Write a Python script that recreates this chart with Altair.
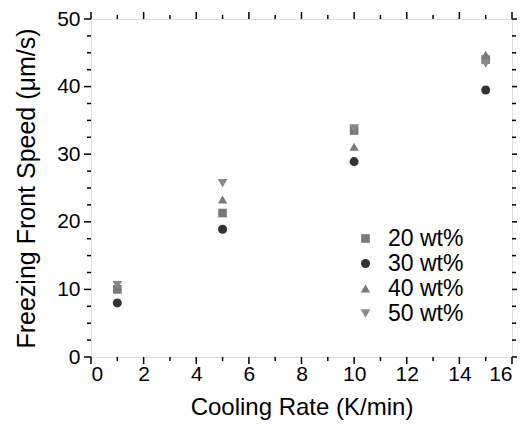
import altair as alt
import pandas as pd

cooling_rate = [1, 5, 10, 15]
series_names = ["20 wt%", "30 wt%", "40 wt%", "50 wt%"]
speed_20 = [10.0, 21.3, 33.5, 44.0]
speed_30 = [8.0, 18.9, 28.9, 39.5]
speed_40 = [10.4, 23.3, 31.1, 44.7]
speed_50 = [10.6, 25.7, 33.8, 43.4]

x_major = [0, 2, 4, 6, 8, 10, 12, 14, 16]
x_minor = [1, 3, 5, 7, 9, 11, 13, 15]
y_major = [0, 10, 20, 30, 40, 50]
y_minor = [2.5, 5, 7.5, 12.5, 15, 17.5, 22.5, 25, 27.5, 32.5, 35, 37.5, 42.5, 45, 47.5]

rows = []
for name, vals in zip(series_names, [speed_20, speed_30, speed_40, speed_50]):
    for xv, yv in zip(cooling_rate, vals):
        rows.append({"rate": xv, "speed": yv, "series": name, "order": series_names.index(name)})
df = pd.DataFrame(rows)

W, H = 421, 338
FONT = "Liberation Sans"
xscale = alt.Scale(domain=[0, 16], nice=False, zero=False)
yscale = alt.Scale(domain=[0, 50], nice=False, zero=False)

points = alt.Chart(df).mark_point(filled=True, opacity=1).encode(
    x=alt.X("rate:Q", scale=xscale, axis=alt.Axis(
        values=x_major, ticks=False, domain=False, grid=False,
        labelFont=FONT, labelFontSize=21, labelColor="black", labelPadding=6,
        title="Cooling Rate (K/min)", titleFont=FONT, titleFontSize=24,
        titleFontWeight="normal", titleColor="black", titlePadding=11)),
    y=alt.Y("speed:Q", scale=yscale, axis=alt.Axis(
        values=y_major, ticks=False, domain=False, grid=False,
        labelFont=FONT, labelFontSize=21, labelColor="black", labelPadding=11,
        title="Freezing Front Speed (μm/s)", titleFont=FONT, titleFontSize=25,
        titleFontWeight="normal", titleColor="black", titlePadding=17)),
    color=alt.Color("series:N", scale=alt.Scale(domain=series_names,
                    range=["#7a7a7a", "#333333", "#7a7a7a", "#8a8a8a"]),
                    legend=alt.Legend(title=None, orient="none", legendX=263, legendY=208,
                                      labelFont=FONT, labelFontSize=23, labelColor="black",
                                      symbolSize=95, rowPadding=1, labelOffset=11)),
    shape=alt.Shape("series:N", scale=alt.Scale(domain=series_names,
                    range=["square", "circle", "triangle-up", "triangle-down"])),
    size=alt.Size("series:N", scale=alt.Scale(domain=series_names, range=[75, 95, 130, 130]),
                  legend=None),
    order=alt.Order("order:Q"),
)

def xticks(values, y1, y2):
    return alt.Chart(pd.DataFrame({"v": values})).mark_rule(color="black", strokeWidth=1.5).encode(
        x=alt.X("v:Q", scale=xscale), y=alt.value(y1), y2=alt.value(y2))

def yticks(values, x1, x2):
    return alt.Chart(pd.DataFrame({"v": values})).mark_rule(color="black", strokeWidth=1.5).encode(
        y=alt.Y("v:Q", scale=yscale), x=alt.value(x1), x2=alt.value(x2))

layers = [
    xticks(x_major, H, H + 7), xticks(x_minor, H, H + 4),
    xticks(x_major, 0, -7), xticks(x_minor, 0, -4),
    yticks(y_major, 0, -7), yticks(y_minor, 0, -4),
    yticks(y_major, W, W + 7), yticks(y_minor, W, W + 4),
    points,
]

chart = alt.layer(*layers).properties(
    width=W, height=H,
    autosize=alt.AutoSizeParams(type="none"),
    padding={"left": 83, "top": 11, "right": 5, "bottom": 66},
).configure_view(stroke="black", strokeWidth=1.4).configure(background="white")

chart.save("out.html", embed_options={"renderer": "svg", "actions": False})
